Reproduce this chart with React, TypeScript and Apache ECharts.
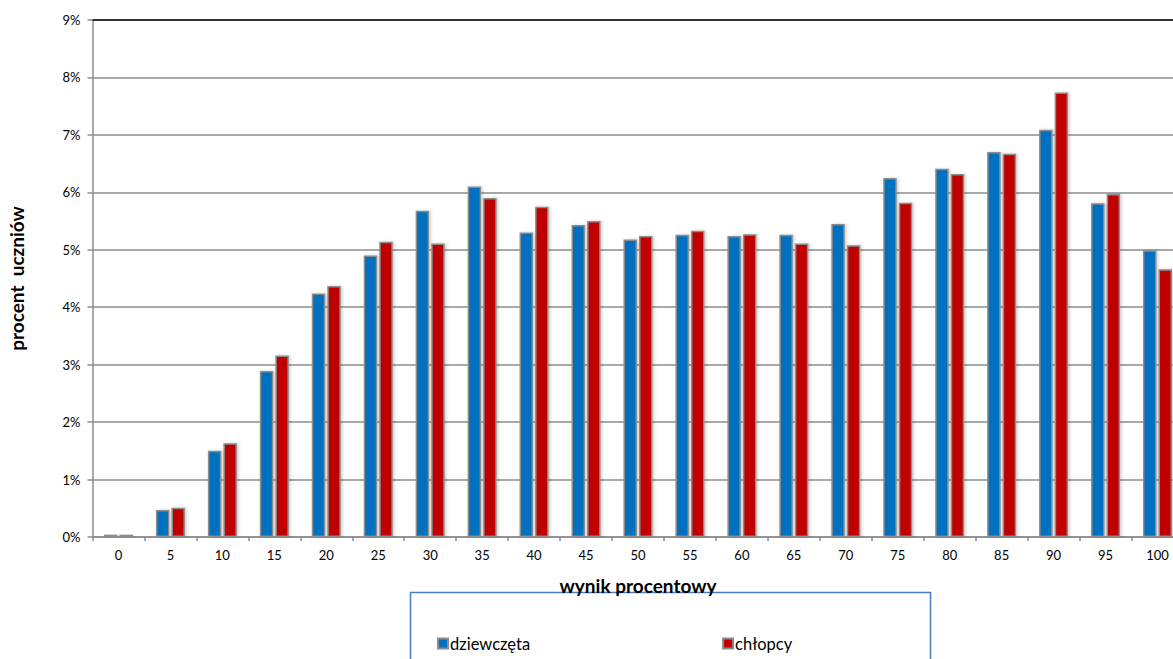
import React, { useEffect, useRef } from "react";
import * as echarts from "echarts";

const categories = ["0","5","10","15","20","25","30","35","40","45","50","55","60","65","70","75","80","85","90","95","100"];
const girls = [0.04,0.47,1.5,2.89,4.24,4.9,5.68,6.1,5.3,5.43,5.18,5.26,5.24,5.26,5.45,6.25,6.41,6.7,7.09,5.81,4.99];
const boys  = [0.04,0.51,1.63,3.16,4.37,5.14,5.11,5.9,5.75,5.5,5.24,5.33,5.27,5.11,5.08,5.82,6.32,6.67,7.74,5.97,4.66];
const seriesNames = ["dziewczęta", "chłopcy"];
const yTicks = { min: 0, max: 9, interval: 1 };

const FONT = "Lato, 'Open Sans', sans-serif";

export default function App() {
  const ref = useRef<HTMLDivElement>(null);
  useEffect(() => {
    if (!ref.current) return;
    const chart = echarts.init(ref.current, null, { renderer: "svg" });
    const barCommon = {
      type: "bar",
      barWidth: 13.5,
      barGap: "15%",
      itemStyle: {
        borderColor: "#8c8c8c",
        borderWidth: 1.5,
        shadowBlur: 3,
        shadowColor: "rgba(0,0,0,0.2)",
        shadowOffsetX: 1.5,
      },
    };
    chart.setOption({
      animation: false,
      textStyle: { fontFamily: FONT },
      grid: {
        left: 92.5,
        right: -10.5,
        top: 20,
        bottom: 122,
        containLabel: false,
        outerBoundsMode: "none",
      },
      xAxis: {
        type: "category",
        data: categories,
        name: "wynik procentowy",
        nameLocation: "middle",
        nameGap: 39,
        nameTextStyle: { fontFamily: FONT, fontWeight: "bold", fontSize: 19, color: "#000" },
        axisLine: { show: true, lineStyle: { color: "#8c8c8c", width: 1.5 } },
        axisTick: { show: true, alignWithLabel: false, interval: 0, length: 4, lineStyle: { color: "#8c8c8c", width: 1.5 } },
        axisLabel: { interval: 0, margin: 11, fontSize: 13, color: "#000", fontFamily: FONT },
      },
      yAxis: {
        type: "value",
        min: yTicks.min,
        max: yTicks.max,
        interval: yTicks.interval,
        name: "procent  uczniów",
        nameLocation: "middle",
        nameGap: 67,
        nameRotate: 90,
        nameTextStyle: { fontFamily: FONT, fontWeight: "bold", fontSize: 19, color: "#000" },
        axisLine: { show: true, lineStyle: { color: "#8c8c8c", width: 1.5 } },
        axisTick: { show: true, length: 5, lineStyle: { color: "#8c8c8c", width: 1.5 } },
        axisLabel: { formatter: "{value}%", margin: 12, fontSize: 13, color: "#000", fontFamily: FONT },
        splitLine: { show: true, lineStyle: { color: "#8c8c8c", width: 1.5 } },
      },
      legend: {
        data: seriesNames,
        left: 437,
        top: 635,
        padding: 0,
        itemWidth: 10,
        itemHeight: 10,
        itemGap: 192,
        icon: "rect",
        textStyle: { fontFamily: FONT, fontSize: 16.5, color: "#000", padding: [0, 0, 0, -3] },
      },
      graphic: [
        {
          type: "rect",
          shape: { x: 410.5, y: 592.5, width: 520, height: 90 },
          style: { fill: "none", stroke: "#4a7ebb", lineWidth: 1.5 },
          silent: true,
          z: -1,
        },
      ],
      series: [
        {
          ...barCommon,
          name: seriesNames[0],
          data: girls,
          itemStyle: { ...barCommon.itemStyle, color: "#0070c0" },
          markLine: {
            silent: true,
            symbol: "none",
            label: { show: false },
            lineStyle: { color: "#333", width: 2, type: "solid" },
            data: [{ yAxis: yTicks.max }],
          },
        },
        {
          ...barCommon,
          name: seriesNames[1],
          data: boys,
          itemStyle: { ...barCommon.itemStyle, color: "#c00000" },
        },
      ],
    });
    return () => chart.dispose();
  }, []);
  return (
    <div
      ref={ref}
      style={{ position: "fixed", left: 0, top: 0, width: 1173, height: 659, background: "#fff" }}
    />
  );
}
